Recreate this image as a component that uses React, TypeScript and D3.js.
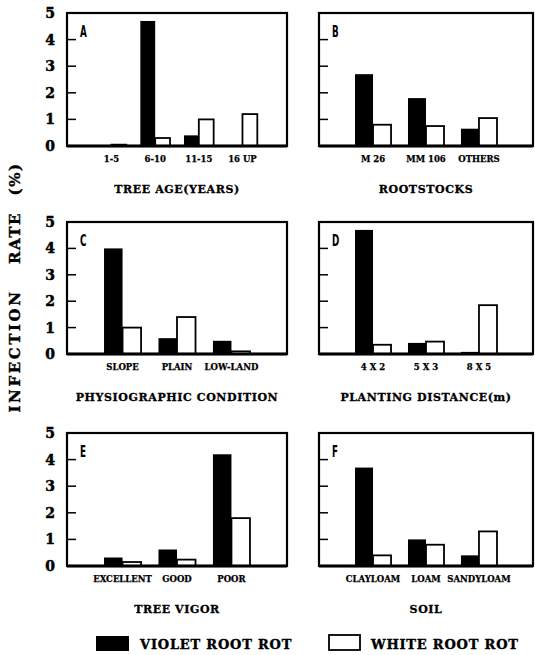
import React from "react";
import { scaleBand, scaleLinear } from "d3";

// panel A - tree age
const ageCats = ["1-5", "6-10", "11-15", "16 UP"];
const ageViolet = [0, 4.7, 0.4, 0.03];
const ageWhite = [0.05, 0.3, 1.0, 1.2];

// panel B - rootstocks
const rootCats = ["M 26", "MM 106", "OTHERS"];
const rootViolet = [2.7, 1.8, 0.65];
const rootWhite = [0.8, 0.75, 1.05];

// panel C - physiographic condition
const physCats = ["SLOPE", "PLAIN", "LOW-LAND"];
const physViolet = [4.0, 0.6, 0.5];
const physWhite = [1.0, 1.4, 0.1];

// panel D - planting distance
const distCats = ["4 X 2", "5 X 3", "8 X 5"];
const distViolet = [4.7, 0.42, 0.08];
const distWhite = [0.35, 0.47, 1.85];

// panel E - tree vigor
const vigorCats = ["EXCELLENT", "GOOD", "POOR"];
const vigorViolet = [0.32, 0.62, 4.2];
const vigorWhite = [0.15, 0.24, 1.8];

// panel F - soil
const soilCats = ["CLAYLOAM", "LOAM", "SANDYLOAM"];
const soilViolet = [3.7, 1.0, 0.4];
const soilWhite = [0.4, 0.8, 1.3];

const yTicks = [0, 1, 2, 3, 4, 5];
const seriesKeys = ["violet", "white"];

const W = 535;
const H = 655;
const serif = "'DejaVu Serif', serif";
const colX = [
  [67, 287],
  [319, 533],
];
const rowY = [
  [13, 146],
  [222, 354],
  [433, 566],
];

type PanelProps = {
  letter: string;
  title: string;
  cats: string[];
  violet: number[];
  white: number[];
  col: number;
  row: number;
};

function Panel({ letter, title, cats, violet, white, col, row }: PanelProps) {
  const [x0, x1] = colX[col];
  const [top, bottom] = rowY[row];

  const x = scaleBand<string>()
    .domain(cats)
    .range([x0, x1])
    .paddingInner(0.32)
    .paddingOuter(0.68);
  const xs = scaleBand<string>().domain(seriesKeys).range([0, x.bandwidth()]);
  const y = scaleLinear().domain([0, 5]).range([bottom, top]);
  const lx = x0 + 13;

  return (
    <g>
      {cats.map((c, i) => (
        <g key={c}>
          <rect
            x={(x(c) ?? 0) + (xs("violet") ?? 0)}
            y={y(violet[i])}
            width={xs.bandwidth()}
            height={y(0) - y(violet[i])}
            fill="#000"
          />
          <rect
            x={(x(c) ?? 0) + (xs("white") ?? 0)}
            y={y(white[i])}
            width={xs.bandwidth()}
            height={y(0) - y(white[i])}
            fill="#fff"
            stroke="#000"
            strokeWidth={1.8}
          />
          <text
            x={(x(c) ?? 0) + x.bandwidth() / 2}
            y={bottom + 16}
            textAnchor="middle"
            fontFamily={serif}
            fontWeight="bold"
            fontSize={8.5}
            stroke="#000"
            strokeWidth={0.25}
          >
            {c}
          </text>
        </g>
      ))}
      {/* frame */}
      <rect x={x0} y={top} width={x1 - x0} height={bottom - top} fill="none" stroke="#000" strokeWidth={2.2} />
      <line x1={x0} x2={x1} y1={bottom} y2={bottom} stroke="#000" strokeWidth={3} />
      {yTicks
        .filter((t) => t > 0 && t < 5)
        .map((t) => (
          <line key={t} x1={x0} x2={x0 + 9} y1={y(t)} y2={y(t)} stroke="#000" strokeWidth={1.5} />
        ))}
      {col === 0 &&
        yTicks.map((t) => (
          <text
            key={t}
            x={55}
            y={y(t)}
            dy="0.36em"
            textAnchor="end"
            fontFamily={serif}
            fontWeight="bold"
            fontSize={14}
            stroke="#000"
            strokeWidth={0.5}
          >
            {t}
          </text>
        ))}
      <text
        x={lx}
        y={top + 24}
        fontFamily="'DejaVu Sans Condensed', 'DejaVu Sans', sans-serif"
        fontWeight="bold"
        fontSize={15}
        transform={`translate(${lx},0) scale(0.65,1) translate(${-lx},0)`}
      >
        {letter}
      </text>
      <text
        x={(x0 + x1) / 2}
        y={bottom + 47}
        textAnchor="middle"
        fontFamily={serif}
        fontWeight="bold"
        fontSize={11}
        letterSpacing={0.6}
        stroke="#000"
        strokeWidth={0.3}
      >
        {title}
      </text>
    </g>
  );
}

export default function App() {
  return (
    <svg
      width={W}
      height={H}
      style={{ position: "absolute", left: 0, top: 0, background: "#fff" }}
    >
      <Panel letter="A" title="TREE AGE(YEARS)" cats={ageCats} violet={ageViolet} white={ageWhite} col={0} row={0} />
      <Panel letter="B" title="ROOTSTOCKS" cats={rootCats} violet={rootViolet} white={rootWhite} col={1} row={0} />
      <Panel letter="C" title="PHYSIOGRAPHIC CONDITION" cats={physCats} violet={physViolet} white={physWhite} col={0} row={1} />
      <Panel letter="D" title="PLANTING DISTANCE(m)" cats={distCats} violet={distViolet} white={distWhite} col={1} row={1} />
      <Panel letter="E" title="TREE VIGOR" cats={vigorCats} violet={vigorViolet} white={vigorWhite} col={0} row={2} />
      <Panel letter="F" title="SOIL" cats={soilCats} violet={soilViolet} white={soilWhite} col={1} row={2} />

      {/* y axis title */}
      <text
        transform="translate(20,0) rotate(-90)"
        textAnchor="middle"
        fontFamily={serif}
        fontWeight="bold"
        fontSize={15}
        stroke="#000"
        strokeWidth={0.4}
      >
        <tspan x={-351} letterSpacing={2.6}>INFECTION</tspan>
        <tspan x={-238} letterSpacing={1.5}>RATE</tspan>
        <tspan x={-179} letterSpacing={1.5}>(%)</tspan>
      </text>

      {/* legend */}
      <rect x={96} y={636} width={33} height={15} fill="#000" />
      <text x={140} y={649} fontFamily={serif} fontWeight="bold" fontSize={13} letterSpacing={0.8} stroke="#000" strokeWidth={0.4}>
        VIOLET ROOT ROT
      </text>
      <rect x={329} y={635} width={31} height={15} fill="#fff" stroke="#000" strokeWidth={1.8} />
      <text x={371} y={649} fontFamily={serif} fontWeight="bold" fontSize={13} letterSpacing={0.8} stroke="#000" strokeWidth={0.4}>
        WHITE ROOT ROT
      </text>
    </svg>
  );
}
